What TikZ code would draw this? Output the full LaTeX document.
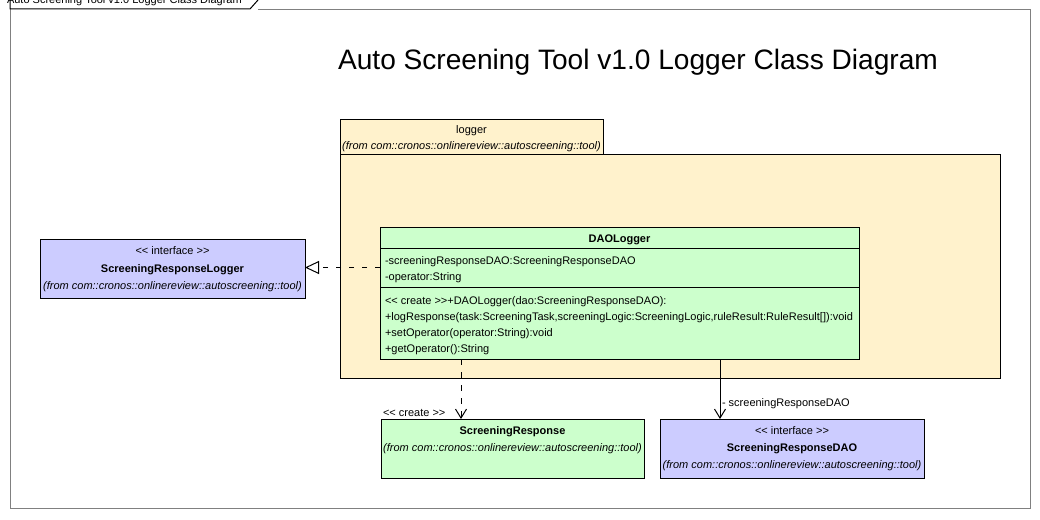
\documentclass[tikz,border=0pt]{standalone}
\usepackage{fontspec}
\setmainfont{Liberation Sans}
\usetikzlibrary{arrows.meta}
\definecolor{pkgfill}{RGB}{255,242,204}
\definecolor{clsfill}{RGB}{204,255,204}
\definecolor{iffill}{RGB}{204,204,255}
\definecolor{framegray}{RGB}{128,128,128}
\newcommand{\stlt}{<{}<}
\newcommand{\stgt}{>{}>}
\begin{document}
\begin{tikzpicture}[x=1pt,y=-1pt,
  every node/.style={inner sep=0pt, outer sep=0pt},
  sm/.style={font=\fontsize{11}{13}\selectfont},
  smb/.style={font=\fontsize{11}{13}\selectfont\bfseries},
  smi/.style={font=\fontsize{11}{13}\selectfont\itshape},
  clsbox/.style={draw=black, fill=clsfill, line width=1pt, rectangle},
  ifbox/.style={draw=black, fill=iffill, line width=1pt, rectangle},
  pkgbox/.style={draw=black, fill=pkgfill, line width=1pt, rectangle},
  conn/.style={line width=1pt, black},
  dashconn/.style={line width=1pt, black, dash pattern=on 5.5pt off 7.5pt}
]
\useasboundingbox (0,0) rectangle (1040,519);
\fill[white] (0,0) rectangle (1040,519);

% outer frame with tab
\draw[framegray, line width=1pt] (258,10) -- (1030,10) -- (1030,508) -- (10,508) -- (10,9);
\node[sm, anchor=base west] (tabtext) at (7,3.5) {Auto Screening Tool v1.0 Logger Class Diagram};
\draw[black, line width=1pt] (10,0) -- (10,9) -- (250,9) -- (258,0);

% title
\node[font=\fontsize{28.1}{32}\selectfont, anchor=base] (title) at (638,70) {Auto Screening Tool v1.0 Logger Class Diagram};

% package
\node[pkgbox, minimum width=263pt, minimum height=35pt] (pkgtab) at (471.5,136.5) {};
\node[pkgbox, minimum width=660pt, minimum height=224pt] (pkgbody) at (670,266) {};
\node[sm, anchor=base] (pkgname) at (471.5,133) {logger};
\node[smi, anchor=base] (pkgfrom) at (471.5,149) {(from com::cronos::onlinereview::autoscreening::tool)};

% ScreeningResponseLogger
\node[ifbox, minimum width=265pt, minimum height=59pt] (srl) at (172.5,268.5) {};
\node[sm, anchor=base] (srlst) at (172.5,254) {\stlt{} interface \stgt};
\node[smb, anchor=base] (srlname) at (172.5,272) {ScreeningResponseLogger};
\node[smi, anchor=base] (srlfrom) at (172.5,289) {(from com::cronos::onlinereview::autoscreening::tool)};

% DAOLogger
\node[clsbox, minimum width=479pt, minimum height=132pt] (dao) at (619.5,293) {};
\draw[line width=1pt] (380,248) -- (859,248);
\draw[line width=1pt] (380,287) -- (859,287);
\node[smb, anchor=base] (daoname) at (619.5,242) {DAOLogger};
\node[sm, anchor=base west] (a1) at (385,264) {-screeningResponseDAO:ScreeningResponseDAO};
\node[sm, anchor=base west] (a2) at (385,280) {-operator:String};
\node[sm, anchor=base west] (m1) at (385,304) {\stlt{} create \stgt{}+DAOLogger(dao:ScreeningResponseDAO):};
\node[sm, anchor=base west] (m2) at (385,320) {+logResponse(task:ScreeningTask,screeningLogic:ScreeningLogic,ruleResult:RuleResult[]):void};
\node[sm, anchor=base west] (m3) at (385,336) {+setOperator(operator:String):void};
\node[sm, anchor=base west] (m4) at (385,352) {+getOperator():String};

% ScreeningResponse
\node[clsbox, minimum width=263pt, minimum height=59pt] (sr) at (512.5,448.5) {};
\node[smb, anchor=base] (srname) at (512.5,434) {ScreeningResponse};
\node[smi, anchor=base] (srfrom) at (512.5,451) {(from com::cronos::onlinereview::autoscreening::tool)};

% ScreeningResponseDAO
\node[ifbox, minimum width=264pt, minimum height=59pt] (srdao) at (792,448.5) {};
\node[sm, anchor=base] (srdaost) at (792,434) {\stlt{} interface \stgt};
\node[smb, anchor=base] (srdaoname) at (792,451) {ScreeningResponseDAO};
\node[smi, anchor=base] (srdaofrom) at (792,468) {(from com::cronos::onlinereview::autoscreening::tool)};

% connectors
\coordinate (rs) at (380,267.5);
\coordinate (re) at (305,267.5);
\draw[dashconn, -{Triangle[open, length=14pt, width=13pt, line width=1pt]}] (rs) -- (re);

\coordinate (ds) at (461,359);
\coordinate (de) at (461,419);
\draw[dashconn, -{Straight Barb[length=9pt, width=11pt, line width=1pt]}] (ds) -- (de);
\node[sm, anchor=base west] (createlbl) at (383,416) {\stlt{} create \stgt};

\coordinate (as) at (720,359);
\coordinate (ae) at (720,419);
\draw[conn, -{Straight Barb[length=9pt, width=11pt, line width=1pt]}] (as) -- (ae);
\node[sm, anchor=base west] (assoclbl) at (722,406) {- screeningResponseDAO};
\end{tikzpicture}
\end{document}
